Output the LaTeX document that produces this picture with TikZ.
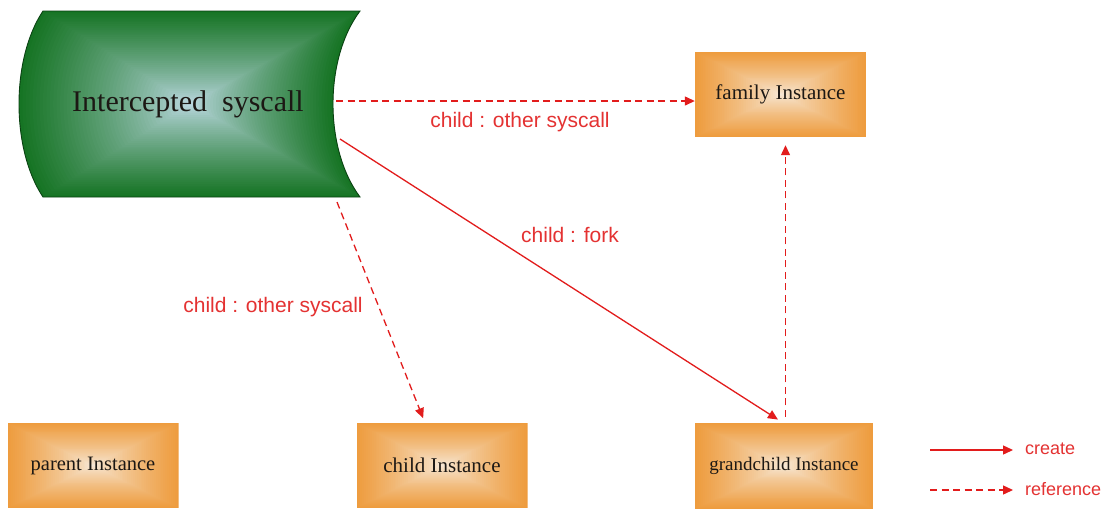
\documentclass[tikz,border=0pt]{standalone}
\usepackage{fontspec}
\setmainfont{Liberation Serif}
\newfontfamily\labelsans{Liberation Sans}
\usetikzlibrary{arrows.meta,calc}

\definecolor{linered}{RGB}{226,28,28}
\definecolor{textred}{RGB}{228,50,50}
\definecolor{orangeedge}{RGB}{238,156,62}
\definecolor{orangemid}{RGB}{247,236,222}
\definecolor{greenedge}{RGB}{22,116,36}
\definecolor{greenmid}{RGB}{194,220,232}
\definecolor{greenline}{RGB}{10,66,18}
\definecolor{boxtext}{RGB}{28,24,20}

\tikzset{
  % orange instance box with a rectangular centre-out gradient
  instbox/.style={
    inner sep=0pt, text=boxtext,
    font=\fontsize{21}{24}\selectfont,
    path picture={
      \foreach \k in {0,...,44}{
        \pgfmathsetmacro\sc{1-\k/45}
        \pgfmathsetmacro\pc{100*(\sc)^0.75}
        \fill[orangeedge!\pc!orangemid]
          ($(path picture bounding box.center)!\sc!(path picture bounding box.south west)$)
          rectangle
          ($(path picture bounding box.center)!\sc!(path picture bounding box.north east)$);
      }
    }
  },
  arrowtip/.style={-{Triangle[length=10pt,width=9pt]}},
  createline/.style={arrowtip, draw=linered, line width=1.3pt},
  refline/.style={arrowtip, draw=linered, line width=1.3pt, dash pattern=on 7pt off 4.5pt},
  edgelabel/.style={text=textred, font=\labelsans\fontsize{21}{24}\selectfont, inner sep=0pt},
  legendlabel/.style={text=textred, font=\labelsans\fontsize{18}{21}\selectfont, inner sep=0pt, anchor=west}
}

% outline of the syscall shape, centred on the origin
\newcommand{\syscallpath}{%
  (-147,-93) -- (170,-93) .. controls (134,-45) and (134,45) .. (170,93)
  -- (-147,93) .. controls (-179,45) and (-179,-45) .. cycle}

\begin{document}
\begin{tikzpicture}[x=1pt,y=-1pt]
\useasboundingbox[fill=white] (0,0) rectangle (1116,509);

% syscall shape: nested copies shading from dark green to a pale centre
\begin{scope}[shift={(190,104)}]
  \foreach \k in {0,...,49}{
    \pgfmathsetmacro\sc{1-\k/50}
    \pgfmathsetmacro\pc{100*(\sc)^0.8}
    \begin{scope}[scale=\sc]
      \fill[greenedge!\pc!greenmid] \syscallpath;
    \end{scope}
  }
  \draw[greenline, line width=0.9pt] \syscallpath;
\end{scope}
\node[text=boxtext, font=\fontsize{30}{34}\selectfont, inner sep=0pt] (sys) at (188,104) {Intercepted~~syscall};

% instance boxes
\node[instbox, minimum width=171pt, minimum height=85pt] (family) at (780.5,94.5) {family Instance};
\node[instbox, minimum width=171pt, minimum height=85pt, font=\fontsize{20.5}{24}\selectfont] (parent) at (93,465.5) {parent Instance};
\node[instbox, minimum width=171pt, minimum height=85pt] (child) at (442,465.5) {child Instance};
\node[instbox, minimum width=178pt, minimum height=86pt, font=\fontsize{19}{22}\selectfont] (grandchild) at (784,466) {grandchild Instance};

% connector ends on the syscall shape
\coordinate (s1) at (336,101);
\coordinate (s2) at (340,139);
\coordinate (s3) at (337,202);

% connectors
\draw[refline] (s1) -- (s1 -| family.west);
\draw[createline, shorten >=6pt] (s2) -- ([xshift=-1pt]grandchild.north);
\draw[refline, shorten >=5pt] (s3) -- ([xshift=-17pt]child.north);
\draw[refline, shorten <=6pt, shorten >=8pt] ([xshift=1.5pt]grandchild.north) -- ([xshift=1.5pt]grandchild.north |- family.south);

% connector labels
\node[edgelabel] (lab1) at (520,122) {child : other syscall};
\node[edgelabel] (lab2) at (570,235) {child : fork};
\node[edgelabel] (lab3) at (273,307) {child : other syscall};

% legend
\coordinate (lc1) at (930,450);
\coordinate (lc2) at (1013,450);
\coordinate (lr1) at (930,490);
\coordinate (lr2) at (1013,490);
\draw[createline] (lc1) -- (lc2);
\draw[refline] (lr1) -- (lr2);
\node[legendlabel] (lcreate) at (1025,449) {create};
\node[legendlabel] (lref) at (1025,489) {reference};
\end{tikzpicture}
\end{document}
